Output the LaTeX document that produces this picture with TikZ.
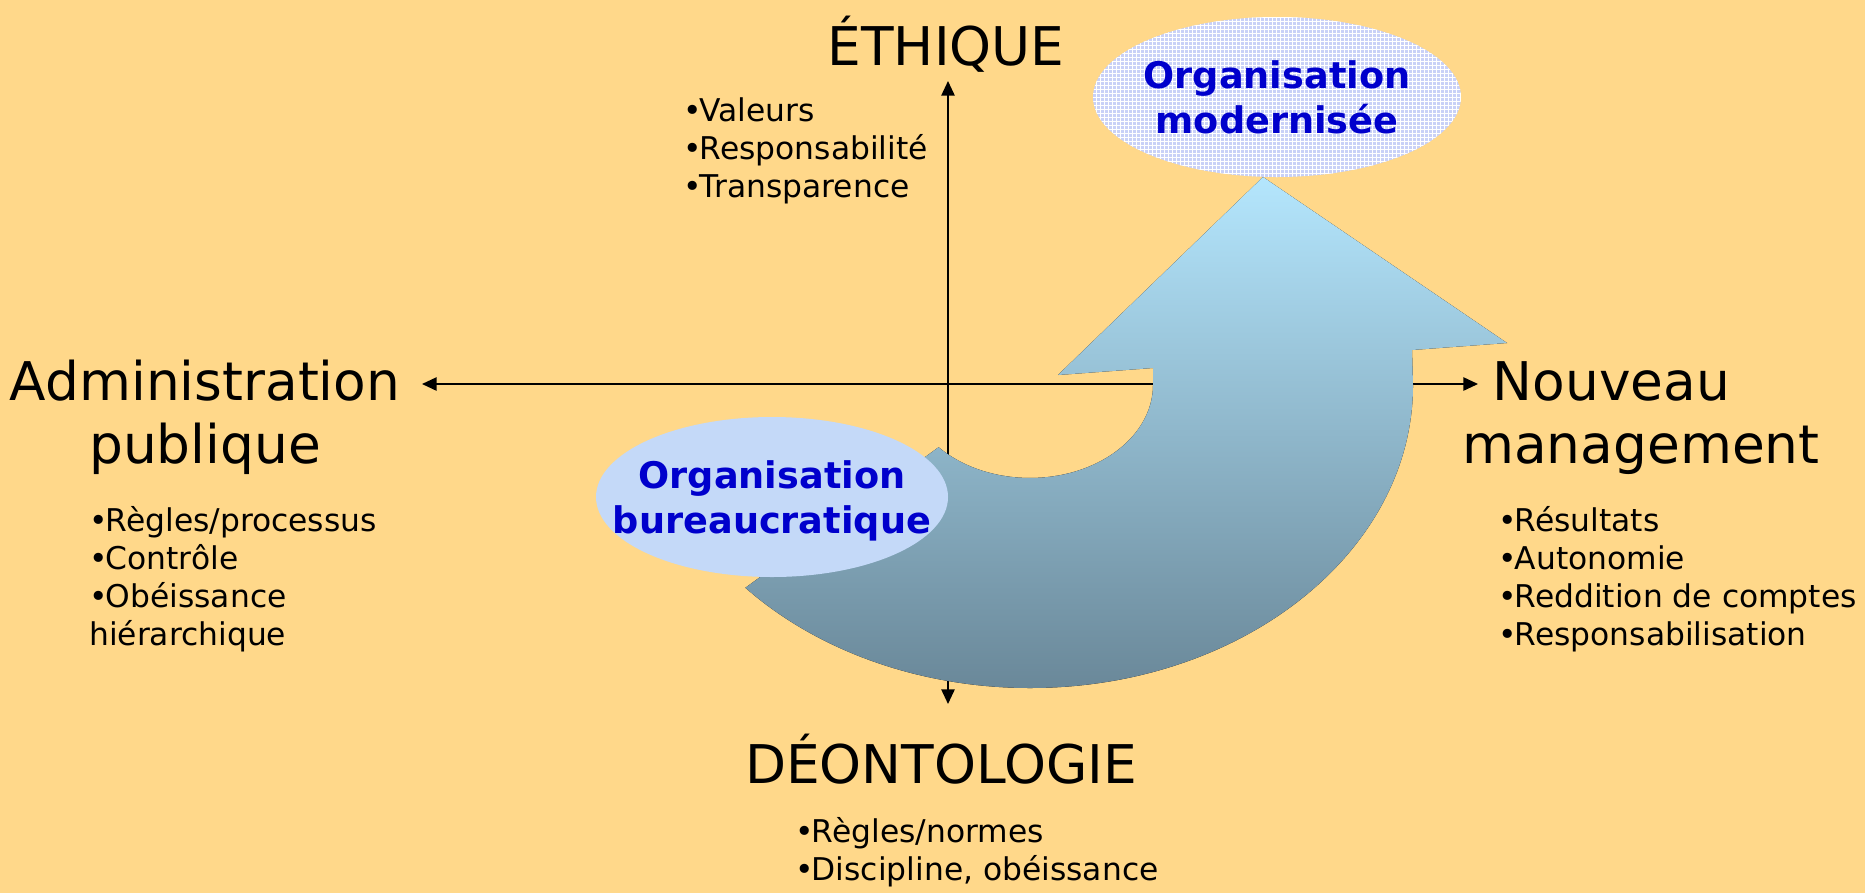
\documentclass[tikz,border=0pt]{standalone}
\usepackage{fontspec}
\setmainfont{DejaVu Sans}
\usetikzlibrary{arrows.meta,shapes.geometric,patterns}
\definecolor{fond}{HTML}{FFD88A}
\definecolor{bleutexte}{HTML}{0000CC}
\definecolor{bulle}{HTML}{C4D9F8}
\definecolor{trame}{HTML}{C9D1F7}
\definecolor{flechehaut}{HTML}{B4E6FD}
\definecolor{flechebas}{HTML}{6A8899}
\newcommand{\puce}{•\kern-1.5pt}
\tikzset{
  titre/.style={font=\fontsize{40}{47}\selectfont,align=center,inner sep=0pt},
  liste/.style={font=\fontsize{23.5}{28.5}\selectfont,align=left,anchor=base west,inner sep=0pt},
  orga/.style={ellipse,inner sep=0pt},
  orgatexte/.style={inner sep=0pt,font=\fontsize{27.5}{33.75}\selectfont\bfseries,text=bleutexte,align=center}
}
\begin{document}
\begin{tikzpicture}[x=0.75pt,y=-0.75pt,>={Triangle[length=11pt,width=10pt]}]
\useasboundingbox (0,0) rectangle (1865,893);
\fill [fond] (0,0) rectangle (1865,893);

\coordinate (nord) at (948,81);
\coordinate (sud) at (948,704);
\coordinate (ouest) at (422,384);
\coordinate (est) at (1478,384);
\draw [<->,line width=1.2pt] (sud)--(nord);
\draw [<->,line width=1.2pt] (ouest)--(est);

\fill [top color=flechehaut,bottom color=flechebas] (1412,350)--(1413,385)
  arc[start angle=0,end angle=138,x radius=383,y radius=303]--(938.6,447.2)
  arc[start angle=138,end angle=0,x radius=123,y radius=93]--(1153,368)--(1058,375)--(1263,177)--(1507,343)--cycle;

\node [orga,minimum width=276pt,minimum height=120pt,preaction={fill=trame},pattern=grid,pattern color=white] (moderne) at (1277,97) {};
\node [orgatexte] (modernetexte) at (moderne.center) {Organisation\\modernisée};
\node [orga,minimum width=264pt,minimum height=120pt,fill=bulle] (bureau) at (772,497) {};
\node [orgatexte] (bureautexte) at (772,501) {Organisation\\bureaucratique};

\node [titre,anchor=base] (ethique) at (946,65) {ÉTHIQUE};
\node [titre,anchor=base] (deonto) at (941,783) {DÉONTOLOGIE};
\node [titre,anchor=base] (admin) at (205,463) {Administration\\publique};
\node [titre,anchor=base west,align=left] (nouveau) at (1462,463) {\hspace*{23pt}Nouveau\\management};

\node [liste] (ethliste) at (683,197) {\puce Valeurs\\\puce Responsabilité\\\puce Transparence};
\node [liste] (adminliste) at (89,645) {\puce Règles/processus\\\puce Contrôle\\\puce Obéissance\\hiérarchique};
\node [liste] (nouvliste) at (1498,645) {\puce Résultats\\\puce Autonomie\\\puce Reddition de comptes\\\puce Responsabilisation};
\node [liste] (deoliste) at (795,880) {\puce Règles/normes\\\puce Discipline, obéissance};
\end{tikzpicture}
\end{document}
